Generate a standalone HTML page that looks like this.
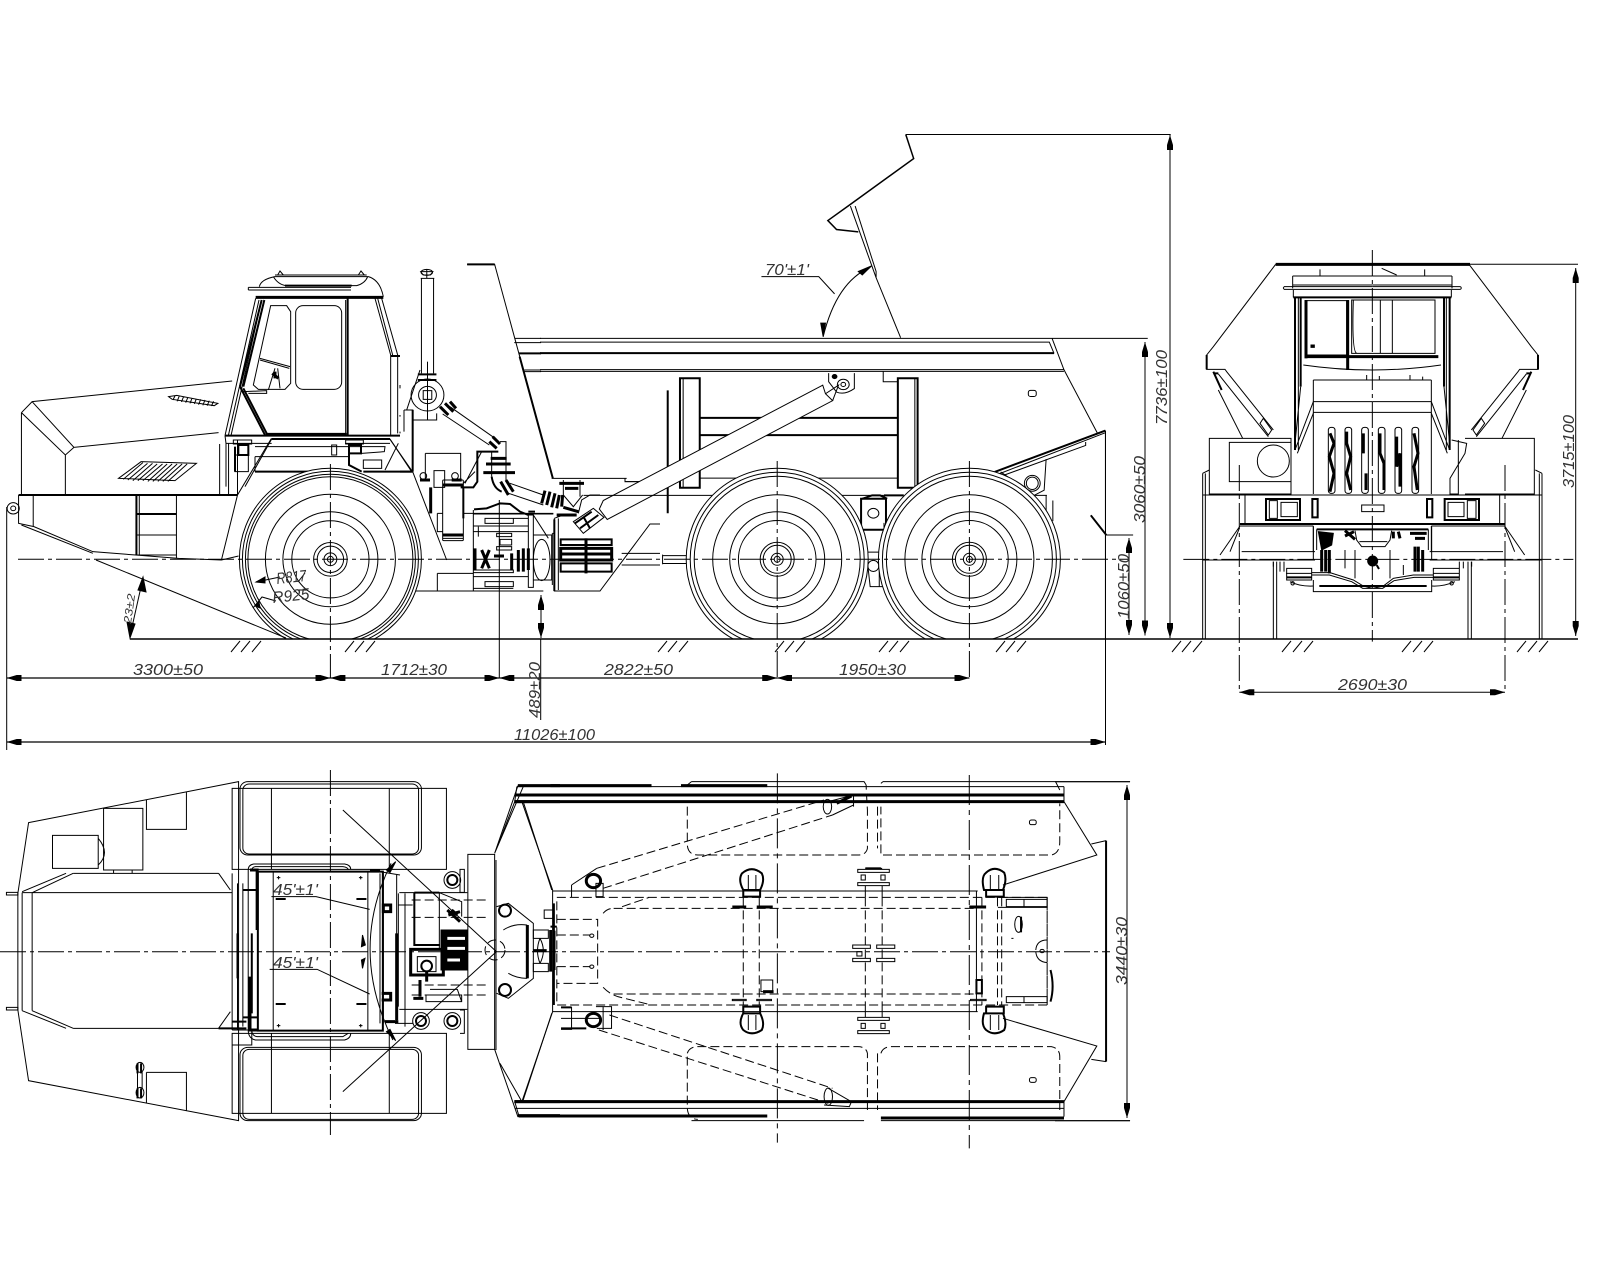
<!DOCTYPE html>
<html><head><meta charset="utf-8"><style>
html,body{margin:0;padding:0;background:#fff}
svg{display:block}
path,circle,ellipse,rect,line,polyline,polygon{fill:none;stroke:#000;stroke-width:1;vector-effect:non-scaling-stroke}
.h{stroke-width:2}
.k{stroke-width:3}
.d{stroke-dasharray:9 4}
.c{stroke-dasharray:26 4 4 4}
.f{fill:#000}
.w{fill:#fff}
.dim{marker-start:url(#ar);marker-end:url(#ar)}
text{font:italic 16px "Liberation Sans",sans-serif;fill:#333;stroke:none}
</style></head><body>
<svg width="1600" height="1280" viewBox="0 0 1600 1280" xmlns="http://www.w3.org/2000/svg">
<defs>
<marker id="ar" markerUnits="userSpaceOnUse" markerWidth="16" markerHeight="8" refX="15" refY="4" orient="auto-start-reverse" viewBox="0 0 16 8"><path d="M0 1L5 1L15 4L5 7L0 7Z" style="fill:#000;stroke:none"/></marker>
<clipPath id="gc"><rect x="0" y="0" width="1600" height="639"/></clipPath>
</defs>
<rect width="1600" height="1280" style="fill:#fff;stroke:none"/>

<!-- SIDE VIEW front -->
<g transform="translate(0 240) scale(.35714 .33333)">
<path d="M60 518L90 485L650 423M90 485L207 622L612 578M60 518L183 645L207 622M60 518V765M183 645V765"/>
<path class="h" d="M52 765H665"/>
<path d="M52 765V850L95 860L260 935L380 945L500 955L620 960L668 948M93 765V858M60 855L260 940"/>
<circle cx="37" cy="805" r="17"/><circle cx="37" cy="805" r="7"/>
<path d="M390 765V945M494 765V955M382 885H494M382 945H494"/><path class="h" d="M382 765V945M382 822H494"/>
<path d="M472 470L495 466L610 490L600 497L482 478ZM484 480L490 468M496 484L502 468M508 486L514 470M520 488L526 472M532 490L538 474M544 492L550 476M556 494L562 478M568 496L574 480M580 497L586 482M592 498L598 484"/>
<path d="M332 715L395 665L550 670L490 722ZM345 718L400 668M358 720L413 670M372 722L427 670M386 722L440 672M400 722L455 672M414 724L468 672M428 724L482 672M442 724L496 672M456 724L510 672M470 724L524 672"/>
<path d="M620 960L665 765L760 595M1090 595L1155 695M665 765V600M640 765V610M615 612V765"/>
<path d="M1180 115V400M1214 115V400M1178 115H1216M1195 115V88M1178 95H1212L1205 105H1185Z"/>
<ellipse cx="1195" cy="97" rx="16" ry="9"/>
<path class="h" d="M1170 403H1222M1170 420H1222"/>
<ellipse cx="1197" cy="465" rx="46" ry="48"/><ellipse cx="1197" cy="465" rx="25" ry="26"/><rect x="1185" y="452" width="24" height="26"/>
<path d="M1197 365V540"/>
<path d="M1308 73H1385L1548 715M1440 295H1515M1440 308H1515M1468 390H1515M1468 395H1515"/>
<path class="h" d="M1308 73H1385M1452 340H1515M1455 350L1548 715"/>
</g>

<!-- CAB (3x) -->
<g transform="translate(225 270) scale(.33333)">
<path d="M70 52H378M70 60H378M70 52V60M103 50Q108 28 150 20H430Q465 30 475 80M145 20Q160 45 185 47H395Q420 40 428 20M150 15H425M158 15L165 3L175 15M400 15L408 3L418 15"/>
<path class="h" d="M180 47H380"/>
<path class="k" d="M92 82H475M122 493H365"/>
<path d="M0 497L92 85M10 497L102 90M18 497L110 90"/>
<path class="h" d="M45 350L110 90M55 350L118 90M368 85V495M45 350L120 495M55 355L125 490"/>
<path d="M362 90V490M137 107H185L197 125V340L180 358H100L85 345ZM450 85L497 255V495M470 85L518 255V490M458 85L503 255"/>
<rect x="212" y="107" width="138" height="251" rx="22"/>
<path class="h" d="M497 258H525M0 497H525"/>
<path d="M105 265L195 290M105 270L193 295M150 295L130 360M158 295L165 355M55 365L125 362V370H70"/>
<path class="k" d="M142 310L160 325M150 305V325"/>
<path d="M0 497L3 520H140M3 520V650M495 520H360"/>
<path class="h" d="M140 507H495"/>
<path d="M90 530H480L478 545L410 550M90 560H370M90 560V605M495 507L560 605M140 507L60 650"/>
<path class="h" d="M90 605H370M415 605H560"/>
<path d="M25 510H80V522H25ZM362 510H415V522H362ZM30 555H70V605H30ZM320 525H335V555H320ZM415 570H470V595H415ZM480 600L520 520"/>
<path class="h" d="M40 525V555H70V525ZM372 525V550H408V525ZM372 550V585L410 605M30 530V605"/>
<path d="M525 355V345M525 440V435M525 490V485M585 300L545 420H565"/>
</g>

<!-- MIDDLE driveline (3x) -->
<g transform="translate(400 400) scale(.33333)">
<path class="h" d="M38 30V215M0 215H38"/>
<path d="M12 30H38M12 30V95M38 60H110V40M38 215L140 480M455 235H680M675 235V245H740"/>
<path d="M150 20L285 115M128 42L268 135M300 125H318V245"/>
<path class="k" d="M120 20L145 45M135 10L160 35M150 5L168 25M268 125L290 145M278 110L300 132"/>
<path d="M76 160H182V240M76 160V240M102 212H134V262H102Z"/>
<circle cx="70" cy="228" r="10"/><circle cx="165" cy="228" r="10"/>
<path class="k" d="M60 240H90M155 240H185"/>
<rect x="128" y="240" width="62" height="182" rx="3"/>
<path class="k" d="M128 405H190M92 262V340M128 255H190"/>
<path class="h" d="M190 265V355M182 262H220L232 245V155H295"/>
<path d="M112 340H128M112 340V395H128M190 340H460M190 250L225 215M245 155L195 250M128 415H190"/>
<path d="M275 155V230M318 150V230"/>
<path class="k" d="M272 175H320M258 192H332M250 218H345"/>
<path class="h" d="M275 230Q280 265 305 275"/>
<path d="M330 250L430 285M320 278L430 315"/>
<path class="k" d="M302 245L325 285M318 240L340 275M435 272L425 310M450 275L440 315M465 280L455 322M478 285L470 325M488 285L485 320"/>
<path class="k" d="M478 250H552M495 265H535"/>
<path d="M490 240V290M540 240V290M490 285L520 320L548 285M535 340L545 300L570 285H600"/>
<path class="k" d="M490 322L535 335M470 345H530"/>
<path class="w" d="M520 365L580 325L612 352L550 400Z"/>
<path class="h" d="M525 370L575 335M540 385L595 345M550 350L570 385"/>
<path d="M463 355V573H600L750 372H780M475 355V570M457 400V555M463 400H457M463 355L490 345"/>
<path class="h" d="M463 358V573"/>
<path class="h" d="M482 418H635V435H482ZM482 490H635V515H482Z"/>
<path class="k" d="M482 445H635V480H482ZM558 415V520M482 462H635"/>
<path d="M665 460H780M665 495H780"/>
<path d="M220 330V573M220 342H460M255 355H340V370H255ZM220 378H385M220 395H385M290 400H335V410H290ZM300 418H335V435H300ZM290 440H335V450H290ZM220 510H340V518H220ZM220 530H385M255 545H340V560H255ZM220 565H340M235 380V410M385 345V562H400V345ZM340 355H385M400 405H455V540H400M400 345L445 415"/>
<path class="h" d="M222 328L260 325L300 310L330 312L360 335L385 345M385 335H405"/>
<ellipse cx="425" cy="480" rx="25" ry="62"/>
<path class="k" d="M225 445V510M245 450L268 505M268 450L245 505M282 468H312M335 460V510M355 450V515M370 445V515M385 445V510"/>
<path d="M112 520H220M112 520V573M45 573H430"/>
</g>

<!-- SIDE VIEW rear -->
<g transform="translate(540 120) scale(.39541 .34435)">
<path d="M925 42H1595"/>
<path style="stroke-width:1.5" d="M925 42L945 112L785 245L728 292L750 318L805 325"/>
<path d="M785 250L850 458L912 632M797 250L850 440V458"/>
<path d="M560 455H705L745 505M835 428Q750 470 716 630"/>
<path class="f" d="M805 440L838 424L815 450ZM710 590H722L716 628Z"/>
<path d="M0 634H1537M0 645H1288L1300 678M0 725H1325M0 730H1325M1295 634L1325 725L1410 910"/>
<path class="h" d="M0 677H1300"/>
<path class="h" d="M1150 1022L1430 902"/>
<path d="M1160 1028L1430 908M1165 1035L1380 945V935M1430 902V1507M1430 1205H1500"/>
<path class="h" d="M1393 1148L1432 1205"/>
<path d="M1280 985L1275 1075L1250 1090M1165 1022L1185 1038"/>
<ellipse cx="1245" cy="1055" rx="20" ry="23"/><ellipse cx="1245" cy="1055" rx="15" ry="18"/>
<rect x="1235" y="785" width="20" height="18" rx="6"/>
<path d="M1280 1090V1165M1240 1090H1282M1297 1105V1165"/>
<path class="h" d="M354 750V1068H404V750ZM905 750V1068H955V750ZM323 785V1142M404 865H905M404 915H905"/>
<path d="M362 750V1068M948 750V1068M404 1040H905M215 1040V1050H265M868 730V760H905"/>
<path class="w" d="M715 770L160 1105L150 1130L170 1160L740 815L722 795Z"/>
<path d="M722 795L755 770L740 815"/>
<path d="M730 735V760L750 790Q770 800 795 780V735"/>
<ellipse cx="767" cy="768" rx="15" ry="15"/><ellipse cx="767" cy="768" rx="6" ry="6"/><ellipse cx="745" cy="745" rx="6" ry="6" class="f"/>
<path d="M110 1090H905"/>
<path d="M310 1265H375M310 1288H375M310 1262V1290"/>
<path d="M820 1200L835 1355H870V1170M825 1255H858V1355"/>
<path class="h" d="M812 1100H875V1190H812Z"/>
<ellipse cx="843" cy="1142" rx="14" ry="14"/><ellipse cx="843" cy="1295" rx="14" ry="16"/>
<path class="h" d="M870 1090H920M815 1100L840 1090H860L878 1100"/>
</g>

<!-- wheels -->
<g clip-path="url(#gc)">
<circle class="w" cx="330.4" cy="559.3" r="91"/><circle cx="330.4" cy="559.3" r="88"/><circle cx="330.4" cy="559.3" r="85"/><circle cx="330.4" cy="559.3" r="82.5"/><circle cx="330.4" cy="559.3" r="65"/><circle cx="330.4" cy="559.3" r="47.5"/><circle cx="330.4" cy="559.3" r="38.6"/><circle cx="330.4" cy="559.3" r="16.8"/><circle cx="330.4" cy="559.3" r="13.2"/><circle cx="330.4" cy="559.3" r="6.4"/><circle cx="330.4" cy="559.3" r="3"/>
<circle class="w" cx="777.2" cy="559.3" r="91"/><circle cx="777.2" cy="559.3" r="87"/><circle cx="777.2" cy="559.3" r="83"/><circle cx="777.2" cy="559.3" r="64.5"/><circle cx="777.2" cy="559.3" r="47.5"/><circle cx="777.2" cy="559.3" r="38.8"/><circle cx="777.2" cy="559.3" r="17"/><circle cx="777.2" cy="559.3" r="14"/><circle cx="777.2" cy="559.3" r="6"/><circle cx="777.2" cy="559.3" r="3"/>
<circle class="w" cx="969.4" cy="559.3" r="91"/><circle cx="969.4" cy="559.3" r="87"/><circle cx="969.4" cy="559.3" r="83"/><circle cx="969.4" cy="559.3" r="64.5"/><circle cx="969.4" cy="559.3" r="47.5"/><circle cx="969.4" cy="559.3" r="38.8"/><circle cx="969.4" cy="559.3" r="17"/><circle cx="969.4" cy="559.3" r="14"/><circle cx="969.4" cy="559.3" r="6"/><circle cx="969.4" cy="559.3" r="3"/>
</g>

<!-- Centre lines & ground -->
<path class="c" d="M18 559.3H1129"/>
<path class="c" d="M330.4 464V678M777.2 461V678M969.4 461V678"/>
<path d="M499.3 500V678M540.7 639V720M6.7 507V750M1105.5 431V745"/>
<path style="stroke-width:1.5" d="M130 639H1578"/>
<path d="M231 652L240 641M241 652L250 641M252 652L261 641M345 652L354 641M355 652L364 641M366 652L375 641M658 652L667 641M668 652L677 641M679 652L688 641M775 652L784 641M785 652L794 641M796 652L805 641M879 652L888 641M889 652L898 641M900 652L909 641M996 652L1005 641M1006 652L1015 641M1017 652L1026 641M1172 652L1181 641M1182 652L1191 641M1193 652L1202 641M1282 652L1291 641M1293 652L1302 641M1304 652L1313 641M1402 652L1411 641M1413 652L1422 641M1424 652L1433 641M1517 652L1526 641M1528 652L1537 641M1539 652L1548 641"/>
<path d="M96 560L286 638"/>
<path d="M130 636L143 578"/>
<path class="f" d="M143 577L146 592L138 590ZM130 638L127 622L135 624Z"/>
<path d="M256 582L280 577M305 573L298 582M253 608L262 597L276 601M307 590L298 590"/>
<path class="f" d="M256 582L265 577V583ZM255 606L259 602L260 608Z"/>

<!-- Dimension lines -->
<path class="dim" style="stroke-width:1.3" d="M6.7 678H330.4"/>
<path class="dim" style="stroke-width:1.3" d="M330.4 678H499.3"/>
<path class="dim" style="stroke-width:1.3" d="M499.3 678H777.2"/>
<path class="dim" style="stroke-width:1.3" d="M777.2 678H969.4"/>
<path class="dim" style="stroke-width:1.3" d="M6.7 742H1105.5"/>
<path class="dim" d="M541 595V638"/>
<path class="dim" d="M1145 342V635.5"/>
<path class="dim" d="M1129 538V635"/>
<path class="dim" d="M1170 135V638"/>
<path class="dim" d="M1575.7 268V636"/>
<path class="dim" d="M1239.3 692.3H1505"/>
<path class="dim" d="M1127 785V1118"/>
<path d="M1470 264.3H1578M1055 781.7H1130M1055 1120.7H1130"/>
<path class="c" d="M1239.3 465V692M1505 465V692"/>

<!-- REAR VIEW -->
<g transform="translate(1180 240) scale(.33333)">
<path class="k" d="M287 73H870"/>
<g id="rh">
<path d="M287 73L100 320L80 345V388H135L140 395L280 570M115 402L265 590M115 450L188 595"/>
<path class="h" d="M80 345V388M100 395L125 450M100 400H115"/>
<path d="M250 535L275 570L265 585L240 550ZM338 108H577M338 108V145M338 135H577M312 140H577M312 148H577M312 140L310 144L312 148M340 150V172M420 88V108"/>
<path class="h" d="M340 172H577"/>
<path class="h" d="M345 172V630M362 172V440"/>
<path d="M355 172V630M362 440L345 610M400 485L345 630M400 520L352 640"/>
<path d="M400 420H577M400 420V762M400 485H577M400 517H577"/>
<path d="M68 700V960M76 700V960M68 700L88 690M68 765H577M68 960H405M68 960V1197M76 960V1197M280 965V1197M290 965V1197M195 765V850M180 858H400M120 945L180 858M150 935L178 865M185 935H405M400 858V935"/>
<path class="h" d="M180 852H577"/>
</g>
<use href="#rh" transform="matrix(-1 0 0 1 1154 0)"/>
<path d="M148 607H333V725H148ZM88 595H333V762H88ZM855 595H1063V762H855"/>
<circle cx="280" cy="663" r="48"/>
<path class="k" d="M378 180V355M503 180V390M380 350H775"/>
<path d="M378 182H500V345H378ZM515 180H765V340H515ZM601 180V340M637 180V340M370 375Q577 405 783 375M520 180Q515 335 530 340"/>
<path class="f" d="M393 315H403V322H393Z"/>
<path d="M605 85L650 105M560 405V420M598 408V420M690 405V420M728 410V420"/>
<path d="M815 600L860 610L855 640L810 715V762H835V600"/>
<rect x="445" y="562" width="20" height="198" rx="8"/><rect x="495" y="562" width="20" height="198" rx="8"/><rect x="545" y="562" width="20" height="198" rx="8"/><rect x="595" y="562" width="20" height="198" rx="8"/><rect x="645" y="562" width="20" height="198" rx="8"/><rect x="696" y="562" width="20" height="198" rx="8"/>
<path class="k" d="M450 580L462 610L448 650L462 700L450 755M500 575V610L512 650L500 700L512 750M550 580V640M558 700V750M600 580V640L612 670V750M650 590V680L660 640V740M702 580L714 640L702 680L712 750"/>
<path class="h" d="M258 777H360V840H258ZM794 777H897V840H794ZM397 777H413V832H397ZM741 777H757V832H741Z"/>
<path d="M268 782H292V835H268ZM303 787H352V830H303ZM862 782H888V835H862ZM804 787H852V830H804ZM545 795H612V815H545Z"/>
<path class="c" d="M577 30V1205M10 958H1180"/>
</g>

<!-- REAR axle detail (3x) -->
<g transform="translate(1230 500) scale(.33333)">
<path d="M250 80V180M605 80V180M260 88V150M595 88V150"/>
<path class="h" d="M260 88H595"/>
<path d="M375 92L380 120L395 140H465L480 120L485 92M388 125H472M345 150V205M375 150V235M480 150V235"/>
<path class="f" d="M265 95L310 100L305 135L275 150Z"/>
<path class="k" d="M275 150V215M287 150V215M298 150V220M555 140V215M565 140V215M578 150V215M345 92L375 118M345 108L372 95M490 95V115M505 95L510 115M540 100H590M555 115H585"/>
<circle cx="428" cy="183" r="15" class="f"/><path class="h" d="M440 195L447 207"/>
<path d="M245 218H300L370 240L400 258L428 265L460 258L490 235L550 225H610M245 225H298L365 245L398 265H458L492 242L552 232H610"/>
<path d="M170 205H245V240H170ZM610 205H688V240H610ZM168 220H245M610 220H688M250 240V275H605V240M150 185V215M162 185V215M700 185V205M688 185V205"/>
<path class="h" d="M268 258H590M170 232H245M610 232H688"/>
<circle cx="188" cy="250" r="5"/><circle cx="665" cy="250" r="5"/>
<path d="M180 245Q210 260 250 258M675 245Q640 260 605 258M130 185V200M725 185V200M520 195V225"/>
</g>

<!-- TOP VIEW front -->
<g transform="translate(0 770) scale(.35714 .33333)">
<path d="M80 158L668 35V1052L80 932L50 720V370ZM410 88V178H522V65M290 115H400V300H290ZM147 196H275V295H147ZM275 205Q310 250 275 285M410 907H522V1022M410 907V1000M318 300V310M370 300V310"/>
<path d="M62 368H650M62 722V368M90 368V722M205 310H612M205 775H612M62 365L185 310M90 368L205 310M62 722L185 775M90 722L205 775M18 367H50V375H18ZM18 712H50V720H18ZM612 310L645 360M612 775L645 725"/>
<path class="h" d="M612 775H690M650 755H690"/>
<path d="M665 340V780M650 310V780M680 340V770M650 780H705V825H650"/>
<path class="h" d="M665 490V625M705 490V730"/>
<path class="h" d="M385 880V910M395 880V910M385 955V985M395 955V985"/>
<ellipse cx="392" cy="892" rx="11" ry="15"/><ellipse cx="392" cy="968" rx="11" ry="16"/><path d="M385 905V955M398 905V955"/>
<path d="M650 55H1250V298H650ZM650 790H1250V1030H650ZM760 55V298M1090 55V298M760 790V1030M1090 790V1030"/>
<rect x="672" y="35" width="508" height="220" rx="22"/><rect x="680" y="42" width="492" height="210" rx="18"/><rect x="672" y="832" width="508" height="220" rx="22"/><rect x="680" y="838" width="492" height="210" rx="18"/>
<path class="h" d="M722 305H1072V782H722ZM680 360H722M680 742H722"/>
<path d="M765 305V782M1030 305V782M695 300Q695 285 710 282H965Q982 285 982 298M705 300Q705 292 715 290H960Q975 292 975 300M695 300V780Q695 805 715 810H965Q982 805 982 790M705 780Q705 798 720 800H960L975 790"/>
<path class="k" d="M700 300H720V480M700 620V780H720"/>
<path class="h" d="M772 387H800M998 387H1026M772 702H800M998 702H1026"/>
<path d="M775 323H785M780 318V328M1005 323H1015M1010 318V328M775 767H785M780 762V772M1005 767H1015M1010 762V772"/>
<path d="M1095 280Q975 540 1100 810"/>
<path class="f" d="M1015 495L1023 525L1012 530ZM1015 595L1022 565L1012 570ZM1108 275L1082 300L1092 308ZM1108 812L1082 785L1092 778Z"/>
<path d="M960 120L1390 545L960 965M760 380H885L1035 418M755 598H888L1035 672"/>
<rect x="1310" y="253" width="75" height="585"/>
<path d="M1385 250L1450 48H1568M1385 838L1450 1040H1568M1385 250L1465 50M1465 95L1545 360M1545 730L1465 990"/>
<path class="k" d="M1440 95H1568M1440 995H1568M1450 1037H1568M1450 47H1568"/>
</g>

<!-- COUPLING detail (3x) -->
<g transform="translate(370 860) scale(.33333)">
<path d="M30 40V490M40 40V490M80 45V490M85 100V440M105 100V500M85 135H128M30 35L90 45M75 490H130M88 98H292M88 448H292"/>
<path class="k" d="M0 32H30M80 220V480M45 485H85"/>
<path class="h" d="M133 98H208M133 98V255M130 255H210"/>
<path d="M208 98L275 125V170M208 98V265"/>
<path class="d" d="M125 120H355M125 172H355M125 375H355M125 405H355"/>
<path class="f" d="M213 210H292V330H213Z"/>
<path style="stroke:#fff;stroke-width:3" d="M232 235H285M232 265H285M232 300H270"/>
<path class="k" d="M122 268H220V345H122Z"/>
<path d="M142 290H198V335H142Z"/><circle cx="170" cy="318" r="16" class="h"/><path class="k" d="M170 335V365M150 360V410M130 415H160"/>
<path d="M168 405H275V425H168ZM180 388H262L275 425"/>
<path class="k" d="M232 150L270 185M245 150L262 165M235 165L270 155"/>
<path class="k" d="M40 135H62V155H40ZM35 400H62V420H35"/>
<circle cx="247" cy="60" r="25"/><circle cx="247" cy="60" r="15" class="h"/>
<circle cx="153" cy="483" r="25"/><circle cx="153" cy="483" r="15" class="h"/>
<circle cx="247" cy="483" r="25"/><circle cx="247" cy="483" r="15" class="h"/>
<path d="M270 28H283V97H270ZM270 450H283V520H270"/>
<path d="M380 140L415 130L490 190V355L415 415L380 400M400 210Q430 190 470 195V355Q440 355 415 340M378 0V570"/>
<circle cx="405" cy="152" r="18" class="h"/><circle cx="405" cy="390" r="18" class="h"/>
<circle cx="375" cy="270" r="30" class="d"/>
<path class="k" d="M472 195V355"/>
<path d="M490 210H535V235H490ZM490 310H535V335H490ZM510 235Q495 272 510 310M510 235Q530 272 510 310"/>
<path class="k" d="M542 210V335M552 212V330M490 272H530"/>
</g>
<path class="c" d="M0 951.7H1110M330.4 770V1135"/>

<!-- TOP VIEW rear -->
<g transform="translate(500 770) scale(.42088 .33333)">
<path d="M40 50H1340M40 50L35 95L0 210M52 95L125 360V725L52 995L0 880M35 995L45 1038M1340 50V95L1418 255L1195 345M1340 995V1040M1340 995L1418 828L1195 745M1405 222L1440 212M1405 868L1440 875M35 1015H1340"/>
<path class="h" d="M1440 212V875"/>
<path class="k" d="M35 75H1340M35 95H1340M35 995H1340M45 1038H635M905 1044H1340M120 47H360M430 47H635"/>
<path class="d" d="M445 110V225Q447 255 470 255H850Q870 255 873 235V120Q870 60 870 45M905 250V110M910 255H1310Q1330 250 1330 215V100M445 860V1015Q447 1048 470 1048M445 850Q450 830 470 830H850Q870 830 873 850V1020M905 850Q910 830 930 830H1310Q1330 835 1330 860V1020M897 110V235M897 850V1020"/>
<path d="M455 35H865L870 45M445 45L455 35M910 35H1320L1330 60M905 40L910 35M455 1052H865M905 1052H1325"/>
<path d="M125 363H1135M125 725H1135"/>
<path class="d" d="M135 382H1300V705H135V382M270 415H1130M270 672H1130M245 430Q255 415 270 415M245 652Q260 672 280 680L360 705M290 410L355 382M135 448H232V640H135M135 495H215M135 590H215M578 382V705M616 382V705M1145 382V705M1182 382V705M1192 382V705M868 382V705M908 382V705M1300 382V705"/>
<path class="k" d="M552 411H585M610 411H648M1115 411H1155"/>
<path class="h" d="M128 400V705M120 470H135"/>
<path d="M105 420H128V445H105ZM1132 363V725M1183 382H1300V412H1183M1203 388H1300V410H1203ZM1245 388V410M1203 680H1300V698H1203ZM1245 680V698"/>
<ellipse cx="1232" cy="463" rx="9" ry="24"/><path class="h" d="M1238 440V487"/><circle cx="1288" cy="543" r="5"/><path d="M1273 540Q1275 510 1300 510M1273 545Q1275 575 1300 578M1215 505H1220"/>
<path class="h" d="M1308 600Q1318 650 1308 695"/>
<path class="h" d="M1132 630H1145V670H1132Z"/><path d="M620 630H648V665H620ZM552 688H585V692H552ZM610 688H645V692H610ZM1118 688H1155V692H1118Z"/>
<path class="k" d="M625 665H650"/>
<path class="h" d="M578 360Q565 330 575 310Q598 285 622 310Q630 330 618 360ZM578 380H618V360H578ZM1150 360Q1142 320 1155 308Q1175 285 1198 308Q1205 330 1195 360ZM1155 380H1197V360H1155ZM578 710H618V730H578ZM578 730Q565 760 578 780Q598 800 622 780Q630 760 618 730ZM1155 710H1197V730H1155ZM1150 730Q1142 765 1155 780Q1175 800 1198 780Q1205 760 1195 730Z"/>
<path d="M590 315V360M608 315V360M1165 315V360M1185 315V360M590 735V780M608 735V780M1165 735V780M1185 735V780"/>
<path d="M850 298H925V307H850ZM850 338H925V347H850ZM858 315H868V330H858ZM905 315H915V330H905ZM868 295H908M868 347V382M908 347V382"/>
<path d="M850 742H925V751H850ZM850 782H925V791H850ZM858 760H868V775H858ZM905 760H915V775H905ZM868 791H908M868 705V742M908 705V742"/>
<path d="M838 525H880V535H838ZM895 525H938V535H895ZM838 565H880V575H838ZM895 565H938V575H895ZM848 545H860V558H848Z"/>
<path class="h" d="M868 295H905"/>
<path class="d" d="M230 295L770 90M245 355L790 135M235 780L780 1000M260 735L790 955"/>
<path d="M170 345L230 295M170 345V382"/>
<ellipse cx="778" cy="110" rx="10" ry="22"/>
<ellipse cx="780" cy="980" rx="10" ry="26"/>
<path d="M780 95L840 75V110M790 135L840 105M780 955L835 995L830 1010L770 1005"/>
<path class="k" d="M800 100L835 78"/>
<ellipse cx="222" cy="333" rx="17" ry="20" style="stroke-width:3"/><ellipse cx="222" cy="750" rx="17" ry="20" style="stroke-width:3"/>
<path d="M228 340H245V380H228ZM228 710H245V780M145 712H170V778H145M145 745H240M245 710H265V775H230"/>
<path class="h" d="M145 712H170M145 775H205"/>
<circle cx="218" cy="497" r="5"/><circle cx="218" cy="590" r="5"/>
<rect x="1258" y="150" width="16" height="14" rx="5"/><rect x="1258" y="923" width="16" height="14" rx="5"/>
<path d="M1320 35H1497M1325 1052H1497"/>
<path class="d" style="stroke-dasharray:30 5 5 5" d="M659 10V1118M1115 15V1135"/>
</g>

<!-- TEXT -->
<text x="133" y="675" textLength="70" lengthAdjust="spacingAndGlyphs">3300±50</text>
<text x="381" y="675" textLength="66" lengthAdjust="spacingAndGlyphs">1712±30</text>
<text x="604" y="675" textLength="69" lengthAdjust="spacingAndGlyphs">2822±50</text>
<text x="839" y="675" textLength="67" lengthAdjust="spacingAndGlyphs">1950±30</text>
<text x="514" y="740" textLength="81" lengthAdjust="spacingAndGlyphs">11026±100</text>
<text transform="translate(540 718) rotate(-90)" textLength="56" lengthAdjust="spacingAndGlyphs">489±20</text>
<text transform="translate(1145 523) rotate(-90)" textLength="67" lengthAdjust="spacingAndGlyphs">3060±50</text>
<text transform="translate(1129 619) rotate(-90)" textLength="65" lengthAdjust="spacingAndGlyphs">1060±50</text>
<text transform="translate(1167 425) rotate(-90)" textLength="75" lengthAdjust="spacingAndGlyphs">7736±100</text>
<text x="765" y="275" textLength="44" lengthAdjust="spacingAndGlyphs">70'±1'</text>
<text transform="translate(277 584) rotate(-6)" textLength="30" lengthAdjust="spacingAndGlyphs">R817</text>
<text transform="translate(273 603) rotate(-6)" textLength="37" lengthAdjust="spacingAndGlyphs">R925</text>
<text transform="translate(131 624) rotate(-82)" style="font-size:11px" textLength="30" lengthAdjust="spacingAndGlyphs">23±2</text>
<text x="1338" y="690" textLength="69" lengthAdjust="spacingAndGlyphs">2690±30</text>
<text transform="translate(1574 488) rotate(-90)" textLength="73" lengthAdjust="spacingAndGlyphs">3715±100</text>
<text transform="translate(1127 985) rotate(-90)" textLength="68" lengthAdjust="spacingAndGlyphs">3440±30</text>
<text x="273" y="895" textLength="45" lengthAdjust="spacingAndGlyphs">45'±1'</text>
<text x="273" y="968" textLength="45" lengthAdjust="spacingAndGlyphs">45'±1'</text>
</svg>
</body></html>
